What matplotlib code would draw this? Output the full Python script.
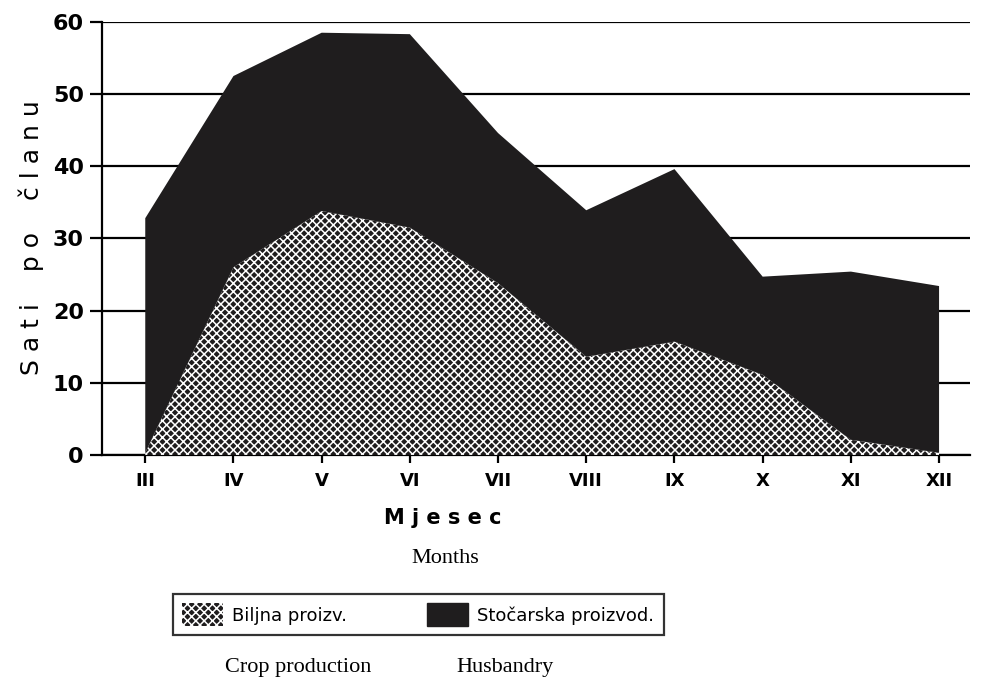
"""Stacked area chart: hours per member by month (crop vs husbandry)"""
import matplotlib
matplotlib.use("Agg")
from matplotlib import pyplot as plt
from matplotlib.patches import Patch

months = ["III", "IV", "V", "VI", "VII", "VIII", "IX", "X", "XI", "XII"]
# bottom layer: crop production (hours per member)
biljna = [0.3, 26.0, 33.8, 31.5, 23.8, 13.6, 15.7, 11.1, 2.1, 0.3]
# top layer: husbandry (stacked on crop)
stocarska = [32.5, 26.5, 24.7, 26.8, 20.8, 20.3, 23.9, 13.6, 23.3, 23.1]
y_ticks = [0, 10, 20, 30, 40, 50, 60]

plt.rcParams['hatch.linewidth'] = 1.1
dark = '#1f1d1e'
pattern = 'xxxx'

fig = plt.figure(figsize=(9.84, 6.8), dpi=100)
ax = fig.add_axes([0.1037, 0.331, 0.882, 0.6368])

xs = list(range(len(months)))
polys = ax.stackplot(xs, biljna, stocarska, colors=[dark, dark], zorder=3)
polys[0].set_hatch(pattern)
polys[0].set_edgecolor('white')
polys[0].set_linewidth(0)
polys[1].set_linewidth(0)

ax.set_xlim(-0.49, 9.35)
ax.set_ylim(0, 60)
ax.set_yticks(y_ticks)
ax.set_xticks(xs)
ax.set_xticklabels(months)

ax.yaxis.grid(True, color='black', linewidth=1.6)
ax.set_axisbelow(True)
for s in ['top', 'right']:
    ax.spines[s].set_visible(False)
for s in ['left', 'bottom']:
    ax.spines[s].set_linewidth(1.6)
ax.tick_params(axis='y', length=9, width=1.6, labelsize=16, pad=4)
ax.tick_params(axis='x', length=6, width=1.6, labelsize=13, pad=6)
for lab in ax.get_yticklabels() + ax.get_xticklabels():
    lab.set_fontweight('bold')

fig.text(0.032, 0.65, "S a t i    p o    č l a n u", rotation=90, ha='center', va='center',
         fontsize=18)
fig.text(0.45, 0.238, "M j e s e c", ha='center', va='center', fontsize=15, fontweight='bold')
fig.text(0.452, 0.178, "Months", ha='center', va='center', fontsize=16, family='Liberation Serif')
fig.text(0.303, 0.018, "Crop production", ha='center', va='center', fontsize=16,
         family='Liberation Serif')
fig.text(0.513, 0.018, "Husbandry", ha='center', va='center', fontsize=16,
         family='Liberation Serif')

handles = [Patch(facecolor=dark, edgecolor='white', hatch=pattern, linewidth=0),
           Patch(facecolor=dark, edgecolor=dark)]
leg = fig.legend(handles, ["Biljna proizv.", "Stočarska proizvod."], loc='center',
                 bbox_to_anchor=(0.425, 0.096), ncol=2, fontsize=13, frameon=True,
                 fancybox=False, edgecolor='black', handlelength=2.3, handleheight=1.6,
                 columnspacing=4.4, handletextpad=0.5, borderpad=0.5)
leg.get_frame().set_linewidth(1.6)

fig.savefig("out.png", dpi=100)
